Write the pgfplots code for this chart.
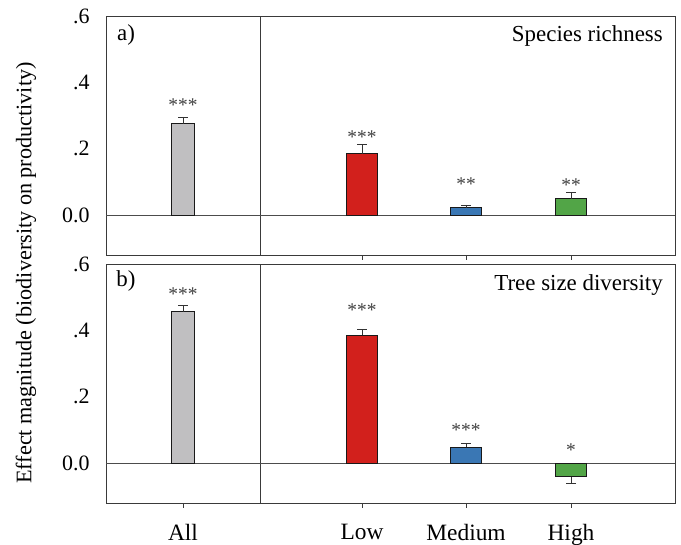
\documentclass[border=0pt]{standalone}
\usepackage{fontspec}
\setmainfont{Liberation Serif}
\usepackage{pgfplots}
\pgfplotsset{compat=1.18}
\definecolor{cgray}{HTML}{C0BFC1}
\definecolor{cred}{HTML}{D2201C}
\definecolor{cblue}{HTML}{3A77B4}
\definecolor{cgreen}{HTML}{52A547}
\definecolor{frame}{HTML}{3A3A3A}
\pgfplotsset{
 panel/.style={
  scale only axis, width=569bp, height=239bp,
  xmin=106, xmax=675, ymin=-0.12, ymax=0.6,
  axis line style={frame, line width=0.8pt},
  ytick={0,0.2,0.4,0.6}, yticklabels={0.0,.2,.4,.6},
  ytick pos=left,
  ytick style={draw=none},
  yticklabel style={font=\fontsize{22}{26}\selectfont, xshift=-13bp},
  xtick pos=bottom, xtick align=outside, major tick length=5bp,
  xtick style={frame, line width=0.6pt},
  xticklabel style={font=\fontsize{23.5}{27}\selectfont, yshift=-13bp},
  extra y ticks={0}, extra y tick labels={},
  extra y tick style={grid=major, major grid style={black!70, line width=0.6pt}},
  extra x ticks={260}, extra x tick labels={},
  extra x tick style={grid=major, major tick length=0pt, major grid style={frame, line width=0.8pt}},
  ybar, bar shift=0pt,
  /pgf/number format/assume math mode=true,
  clip=false,
  error bars/error bar style={black!80, line width=0.7pt},
  error bars/error mark options={rotate=90, mark size=5bp, black!80, line width=0.7pt},
 },
 bargray/.style={fill=cgray, draw=black!90, line width=1.1pt, bar width=23},
 barcol/.style={fill=#1, draw=black!90, line width=1.1pt, bar width=31},
}
\tikzset{star/.style={font=\fontsize{19.5}{22}\selectfont, text=black!75, anchor=center, yshift=-2bp},
 lab/.style={font=\fontsize{23}{27}\selectfont, inner sep=0pt}}
\begin{document}
\begin{tikzpicture}
\useasboundingbox (0,0) rectangle (681bp,545bp);
% panel a
\begin{axis}[panel, at={(106bp,290bp)}, anchor=south west,
  xtick={362,466,571}, xticklabels={}]
\addplot[bargray, error bars/.cd, y dir=plus, y explicit] coordinates {(183,0.276) +- (0,0.020)};
\addplot[barcol=cred, error bars/.cd, y dir=plus, y explicit] coordinates {(362,0.185) +- (0,0.027)};
\addplot[barcol=cblue, error bars/.cd, y dir=plus, y explicit] coordinates {(466,0.023) +- (0,0.008)};
\addplot[barcol=cgreen, error bars/.cd, y dir=plus, y explicit] coordinates {(571,0.050) +- (0,0.018)};
\node[star] at (axis cs:183,0.336) {***};
\node[star] at (axis cs:362,0.241) {***};
\node[star] at (axis cs:466,0.098) {**};
\node[star] at (axis cs:571,0.095) {**};
\node[lab] at (axis cs:126,0.543) {a)};
\node[lab, anchor=east] at (axis cs:663,0.541) {Species richness};
\end{axis}
% panel b
\begin{axis}[panel, at={(106bp,42bp)}, anchor=south west,
  xtick={183,362,466,571}, xticklabels={All,Low,Medium,High}]
\addplot[bargray, error bars/.cd, y dir=plus, y explicit] coordinates {(183,0.456) +- (0,0.020)};
\addplot[barcol=cred, error bars/.cd, y dir=plus, y explicit] coordinates {(362,0.385) +- (0,0.017)};
\addplot[barcol=cblue, error bars/.cd, y dir=plus, y explicit] coordinates {(466,0.048) +- (0,0.011)};
\addplot[barcol=cgreen, error bars/.cd, y dir=minus, y explicit] coordinates {(571,-0.041) +- (0,0.021)};
\node[star] at (axis cs:183,0.515) {***};
\node[star] at (axis cs:362,0.467) {***};
\node[star] at (axis cs:466,0.107) {***};
\node[star] at (axis cs:571,0.045) {*};
\node[lab] at (axis cs:126,0.549) {b)};
\node[lab, anchor=east] at (axis cs:663,0.538) {Tree size diversity};
\end{axis}
\node[font=\fontsize{22.3}{26}\selectfont, inner sep=0pt, rotate=90] at (26bp,272bp) {Effect magnitude (biodiversity on productivity)};
\end{tikzpicture}
\end{document}
